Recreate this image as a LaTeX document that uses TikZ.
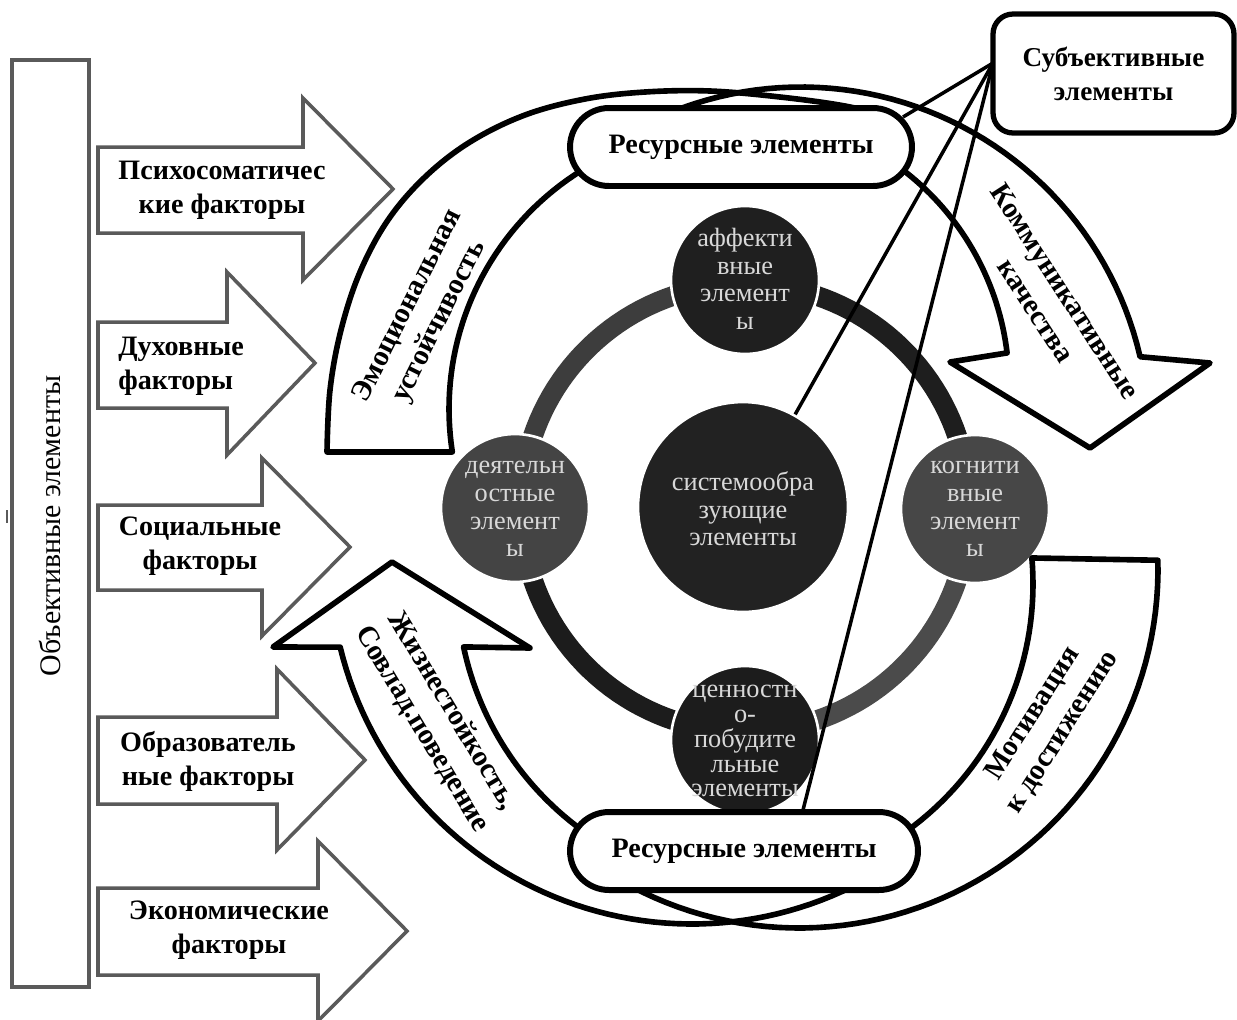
\documentclass[tikz,border=0pt]{standalone}
\usepackage{fontspec}
\setmainfont{Liberation Serif}
\definecolor{fgray}{HTML}{5A5A5A}
\definecolor{ctext}{HTML}{D8D8D8}
\definecolor{caff}{HTML}{1F1F1F}
\definecolor{cact}{HTML}{444444}
\definecolor{ccog}{HTML}{474747}
\definecolor{cval}{HTML}{1C1C1C}
\definecolor{csys}{HTML}{222222}
\definecolor{ringA}{HTML}{3D3D3D}
\definecolor{ringB}{HTML}{1E1E1E}
\definecolor{ringC}{HTML}{4B4B4B}
\definecolor{ringD}{HTML}{1C1C1C}
\begin{document}
\begin{tikzpicture}[x=0.02cm, y=-0.02cm,
  farrow/.style={draw=fgray, line width=2pt, fill=white, line join=miter},
  flabel/.style={font=\fontsize{16}{19.3}\selectfont\bfseries, align=center, inner sep=0pt},
  bshape/.style={draw=black, line width=3.2pt, line join=round},
  arclabel/.style={font=\fontsize{16.5}{20}\selectfont\bfseries, align=center, inner sep=0pt},
  pill/.style={draw=black, line width=3.4pt, fill=white, rounded corners=0.78cm, minimum height=1.56cm, inner sep=0pt, font=\fontsize{16}{19}\selectfont\bfseries},
  elem/.style={circle, draw=white, line width=1.5pt, minimum size=2.96cm, inner sep=0pt},
  elemtext/.style={text=ctext, align=center, inner sep=0pt, font=\fontsize{15}{15.7}\selectfont},
  ringseg/.style={line width=11.3pt},
  link/.style={draw=black, line width=2pt}
]
\useasboundingbox (0,0) rectangle (1237,1019);
\fill[white] (0,0) rectangle (1237,1019);

% left box
\node[draw=fgray, line width=2pt, minimum width=1.54cm, minimum height=18.54cm, inner sep=0pt] (objbox) at (50.5,523.5) {};
\node[rotate=90, inner sep=0pt, font=\fontsize{17}{20}\selectfont] (objtext) at (50,526) {Объективные элементы};
\draw[fgray, line width=1pt] (7,510) -- (7,523);

% factor arrows
\draw[farrow] (98,147) -- (303,147) -- (303,98) -- (393,189) -- (303,280) -- (303,233) -- (98,233) -- cycle;
\draw[farrow] (98,322) -- (227,322) -- (227,272) -- (315,363) -- (227,455) -- (227,408) -- (98,408) -- cycle;
\draw[farrow] (98,505) -- (262,505) -- (262,458) -- (350,547) -- (262,636) -- (262,590) -- (98,590) -- cycle;
\draw[farrow] (98,717) -- (277,717) -- (277,669) -- (365,760) -- (277,850) -- (277,804) -- (98,804) -- cycle;
\draw[farrow] (98,888) -- (318,888) -- (318,841) -- (407,931) -- (318,1021) -- (318,975) -- (98,975) -- cycle;
\node[flabel] (f1) at (222,190) {Психосоматичес\\кие факторы};
\node[flabel, align=left, anchor=west] (f2) at (118,366) {Духовные\\факторы};
\node[flabel] (f3) at (200,546) {Социальные\\факторы};
\node[flabel] (f4) at (208,761) {Образователь\\ные факторы};
\node[flabel] (f5) at (229,930) {Экономические\\факторы};

% ring
\foreach \a/\b/\c in {180/270/ringA, 270/360/ringB, 0/90/ringC, 90/180/ringD}
  \draw[ringseg, draw=\c] plot[domain=\a:\b, samples=40] ({745+224*cos(\x)},{508+224*sin(\x)});

% element circles
\node[elem, fill=caff] (aff) at (745,280) {};
\node[elem, fill=cact] (act) at (515,508) {};
\node[elem, fill=ccog] (cog) at (975,509) {};
\node[elem, fill=cval] (val) at (745,740) {};
\node[elem, fill=csys, minimum size=4.2cm] (sys) at (743,507) {};
\node[elemtext] (afftext) at (745,279) {аффекти\\вные\\элемент\\ы};
\node[elemtext] (acttext) at (515,509) {деятельн\\остные\\элемент\\ы};
\node[elemtext] (cogtext) at (975,509) {когнити\\вные\\элемент\\ы};
\node[elemtext, font=\fontsize{15}{14.2}\selectfont] (valtext) at (745,741) {ценностн\\о-\\побудите\\льные\\элементы};
\node[elemtext] (systext) at (743,509) {системообра\\зующие\\элементы};

% curved arrows: fills
\fill[white] plot[smooth, tension=0.6] coordinates {(327,452) (330,390) (341,330) (360,272) (388,220) (425,177) (470,142) (525,115) (585,99) (645,92) (710,91) (780,97) (845,106) (895,118)} -- plot[domain=240:171.2, samples=40] ({730+281*cos(\x)},{409+281*sin(\x)}) -- cycle;
\fill[white] plot[domain=-114:-13, samples=50] ({801+348*cos(\x)},{435+348*sin(\x)}) -- (1210,363) -- (1090,448) -- (950,362) -- plot[domain=-6.8:-60, samples=40] ({738+271*cos(\x)},{385+271*sin(\x)}) -- cycle;
\fill[white] plot[domain=-1.4:120, samples=60] ({799+359*cos(\x)},{569+359*sin(\x)}) -- plot[domain=80:-4.9, samples=50] ({728+305*cos(\x)},{584+305*sin(\x)}) -- cycle;
\fill[white] plot[domain=60:166.4, samples=60] ({692+362*cos(\x)},{562+362*sin(\x)}) -- (273,647) -- (392,562) -- (530,648) -- plot[domain=168.1:100, samples=50] ({762+305*cos(\x)},{584+305*sin(\x)}) -- cycle;
% outlines
\draw[bshape] plot[smooth, tension=0.6] coordinates {(327,452) (330,390) (341,330) (360,272) (388,220) (425,177) (470,142) (525,115) (585,99) (645,92) (710,91) (780,97) (845,106) (895,118)} -- plot[domain=240:171.2, samples=40] ({730+281*cos(\x)},{409+281*sin(\x)}) -- cycle;
\draw[bshape] plot[domain=-114:-13, samples=50] ({801+348*cos(\x)},{435+348*sin(\x)}) -- (1210,363) -- (1090,448) -- (950,362) -- plot[domain=-6.8:-60, samples=40] ({738+271*cos(\x)},{385+271*sin(\x)}) -- cycle;
\draw[bshape] plot[domain=-1.4:120, samples=60] ({799+359*cos(\x)},{569+359*sin(\x)}) -- plot[domain=80:-4.9, samples=50] ({728+305*cos(\x)},{584+305*sin(\x)}) -- cycle;
\draw[bshape] plot[domain=60:166.4, samples=60] ({692+362*cos(\x)},{562+362*sin(\x)}) -- (273,647) -- (392,562) -- (530,648) -- plot[domain=168.1:100, samples=50] ({762+305*cos(\x)},{584+305*sin(\x)}) -- cycle;

% arc labels
\node[arclabel, rotate=63.5] (eu) at (424,314) {Эмоциональная\\устойчивость};
\node[arclabel, rotate=-57] (kk) at (1051,301) {Коммуникативные\\качества};
\node[arclabel, rotate=57.5] (md) at (1048,723) {Мотивация\\к достижению};
\node[arclabel, rotate=-59] (zs) at (437,720) {Жизнестойкость,\\Совлад.поведение};

% pills
\node[pill, minimum width=6.84cm] (toppill) at (741,147) {Ресурсные элементы};
\node[pill, minimum width=6.96cm] (botpill) at (744,851) {Ресурсные элементы};

% subjective box
\node[draw=black, line width=3pt, fill=white, rounded corners=0.4cm, minimum width=4.82cm, minimum height=2.38cm, inner sep=0pt, align=center, font=\fontsize{15.5}{19.3}\selectfont\bfseries] (subj) at (1113.5,73.5) {Субъективные\\элементы};

% links
\coordinate (subpt) at (993,63);
\coordinate (aend) at (903,117);
\coordinate (cend) at (803,810);
\draw[link] (subpt) -- (aend);
\draw[link] (subpt) -- (sys);
\draw[link] (subpt) -- (cend);
\end{tikzpicture}
\end{document}
